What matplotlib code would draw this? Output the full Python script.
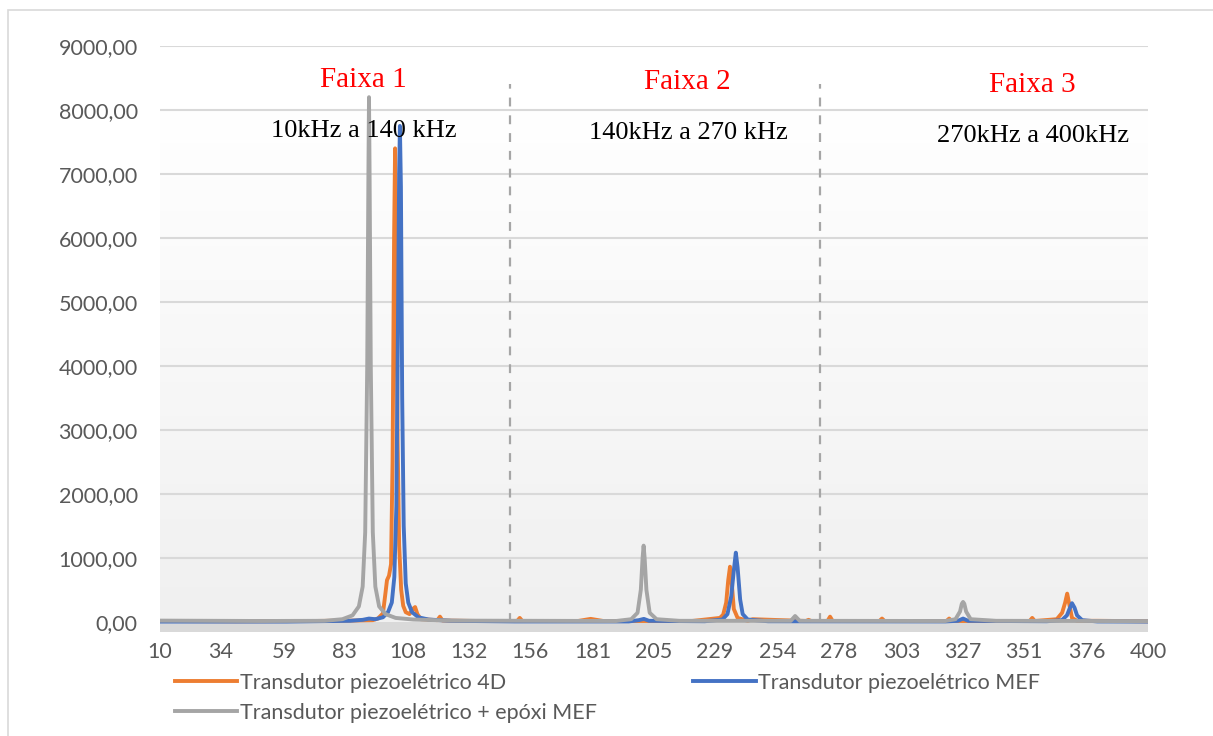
import numpy as np
import matplotlib
matplotlib.use("Agg")
import matplotlib.pyplot as plt
from matplotlib.colors import LinearSegmentedColormap
from matplotlib.patches import Rectangle

# Frequency (kHz) and amplitude
freq_4d = [10, 40, 70, 85, 94, 96, 98, 99, 99.6, 100.4, 101.2, 101.8, 102.4, 102.8,
           103.2, 103.8, 104.4, 105.2, 106, 107, 108.5, 109.8, 110.7, 111.6, 113,
           119.5, 120.5, 121.5, 135, 151, 152, 153, 175, 180, 185, 220, 231, 232.3,
           233.5, 234.3, 235, 235.7, 236.5, 238, 242, 244, 265, 266, 267, 273.5,
           274.5, 275.5, 294, 295, 296, 320.5, 321.5, 322.5, 353.3, 354.3, 355.3,
           364, 366.1, 367.3, 368.1, 368.9, 370, 372, 380, 400]
amp_4d = [12, 8, 12, 18, 25, 50, 130, 450, 650, 720, 900, 2500, 6000, 7400,
          6000, 2800, 1200, 500, 250, 150, 120, 200, 230, 120, 40,
          25, 80, 20, 12, 12, 60, 12, 12, 45, 12, 12, 60, 110,
          300, 650, 860, 600, 200, 60, 15, 40, 12, 30, 12, 12,
          80, 12, 12, 50, 12, 12, 50, 12, 12, 60, 12,
          40, 140, 300, 440, 280, 60, 15, 15, 8]

freq_mef = [10, 60, 85, 90, 92.5, 95, 98, 100, 101.5, 102.5, 103.3, 103.9, 104.4,
            104.7, 105.1, 105.6, 106.2, 107, 108, 109.5, 112, 116, 125, 150, 195,
            199, 201, 203, 225, 232, 234, 235.5, 236.5, 237.3, 238, 239, 240, 242,
            250, 320, 325, 327, 329, 360, 366, 368, 369, 370, 371, 372, 374, 380, 400]
amp_mef = [3, 3, 15, 30, 50, 40, 70, 150, 300, 700, 1800, 4500, 7000,
           7750, 6800, 3500, 1500, 600, 300, 150, 70, 35, 15, 5, 5,
           25, 45, 15, 8, 35, 120, 400, 800, 1080, 850, 350, 120, 35,
           8, 5, 15, 50, 15, 8, 25, 100, 200, 290, 220, 100, 25, 5, 3]

freq_epoxi = [10, 50, 75, 82, 86, 88.5, 90, 91, 91.8, 92.3, 92.5, 92.7, 93.2, 94,
              95, 96.5, 99, 103, 110, 125, 190, 196, 198.5, 199.8, 200.5, 200.9,
              201.3, 202, 203.3, 206, 215, 259, 260.7, 262.5, 320, 324, 325.8,
              326.5, 327, 327.5, 328.2, 330, 340, 400]
amp_epoxi = [18, 12, 15, 40, 100, 240, 550, 1400, 4000, 7200, 8200, 7200, 4000, 1400,
             550, 240, 120, 60, 35, 18, 12, 40, 140, 500, 1000, 1190,
             1000, 500, 140, 40, 15, 15, 90, 15, 12, 40, 160,
             280, 310, 280, 160, 40, 15, 10]

xtick_labels = [10, 34, 59, 83, 108, 132, 156, 181, 205, 229, 254, 278, 303, 327,
                351, 376, 400]
band_limits = [148, 270.6]
band_titles = ["Faixa 1", "Faixa 2", "Faixa 3"]
band_ranges = ["10kHz a 140 kHz", "140kHz a 270 kHz", "270kHz a 400kHz"]

plt.rcParams['font.family'] = ['Lato', 'DejaVu Sans']

fig = plt.figure(figsize=(12.13, 7.36), dpi=100)
W, H = 1213, 736
ax = fig.add_axes([160 / W, 1 - 632 / H, (1148 - 160) / W, (632 - 46) / H])

# outer chart border
fig.patches.append(Rectangle((8 / W, -0.1), 1.2, 1 - 10 / H + 0.1,
                             transform=fig.transFigure, fill=False,
                             edgecolor='#d9d9d9', lw=1.2))

ax.set_xlim(10, 400)
ax.set_ylim(-160, 9000)

# gradient background of the plot area
grad = np.linspace(0, 1, 256).reshape(-1, 1)
cmap = LinearSegmentedColormap.from_list('bg', ['#ffffff', '#f0f0f0'])
ax.imshow(grad, cmap=cmap, extent=[10, 400, 0, 8030], aspect='auto',
          origin='upper', zorder=0)
ax.axhspan(-160, 0, color='#d9d9d9', lw=0, zorder=0.5)

for v in range(1000, 10000, 1000):
    ax.axhline(v, color='#d9d9d9', lw=1.5, zorder=1)

for xv in band_limits:
    ax.vlines(xv, 0, 8400, colors='#a6a6a6', linestyles=(0, (4, 4)), lw=1.6,
              zorder=1.5)

l1, = ax.plot(freq_4d, amp_4d, color='#ED7D31', lw=2.8, zorder=3,
              solid_joinstyle='round', label='Transdutor piezoelétrico 4D')
l2, = ax.plot(freq_mef, amp_mef, color='#4472C4', lw=2.8, zorder=4,
              solid_joinstyle='round', label='Transdutor piezoelétrico MEF')
l3, = ax.plot(freq_epoxi, amp_epoxi, color='#A5A5A5', lw=2.8, zorder=5,
              solid_joinstyle='round', label='Transdutor piezoelétrico + epóxi MEF')

# band annotations
title_x = [90.1, 218, 354.3]
title_y = [8470, 8440, 8390]
range_y = [7670, 7640, 7595]
for i in range(3):
    ax.text(title_x[i], title_y[i], band_titles[i], color='red', fontsize=21,
            family='Liberation Serif', ha='center', va='center', zorder=6)
    ax.text(title_x[i] + 0.4, range_y[i], band_ranges[i], color='black',
            fontsize=19, family='Liberation Serif', ha='center', va='center',
            zorder=6)

ax.set_yticks(range(0, 10000, 1000))
ax.set_yticklabels(['%d,00' % v for v in range(0, 10000, 1000)])
ax.set_xticks(xtick_labels)
ax.set_xticklabels([str(v) for v in xtick_labels])
ax.tick_params(axis='y', length=0, pad=16, labelsize=15.5, labelcolor='#595959')
ax.tick_params(axis='x', length=0, pad=7, labelsize=15.5, labelcolor='#595959')
for s in ax.spines.values():
    s.set_visible(False)

fig.legend(handles=[l1, l3, l2], ncol=2, loc='upper left',
           bbox_to_anchor=(175 / W, 1 - 673 / H), frameon=False,
           fontsize=15.5, labelcolor='#595959', handlelength=2.9,
           handletextpad=0.1, columnspacing=4.5, labelspacing=0.45,
           borderaxespad=0, borderpad=0)

fig.savefig('out.png', dpi=100)
